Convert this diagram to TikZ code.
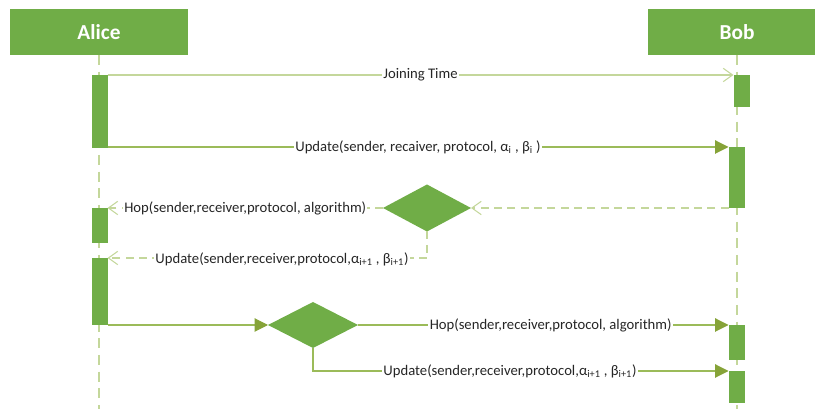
\documentclass[tikz,border=0pt]{standalone}
\usepackage{fontspec}
\setmainfont{Carlito}
\usetikzlibrary{arrows.meta,shapes.geometric}

\definecolor{boxgreen}{HTML}{70AD47}
\definecolor{lifegreen}{HTML}{C4D79B}
\definecolor{msggreen}{HTML}{9BBB59}
\definecolor{tipgreen}{HTML}{86A338}
\definecolor{txtgray}{HTML}{262626}

\tikzset{
  head/.style={fill=boxgreen, draw=none, text=white, font=\fontsize{16}{18}\selectfont\bfseries,
    minimum width=133.5pt, minimum height=34.5pt, inner sep=0pt, outer sep=0pt},
  actbar/.style={fill=boxgreen, draw=none, minimum width=12pt, inner sep=0pt, outer sep=0pt},
  choice/.style={diamond, fill=boxgreen, draw=none, inner sep=0pt, outer sep=0pt},
  lifeline/.style={draw=lifegreen, line width=1.5pt, dash pattern=on 7.5pt off 5pt},
  openmsg/.style={draw=lifegreen, line width=1pt, -{Straight Barb[length=7pt,width=10pt,line width=0.8pt]}},
  replymsg/.style={draw=lifegreen, line width=1pt, dash pattern=on 6pt off 4pt,
    -{Straight Barb[length=7pt,width=10pt,line width=0.8pt]}},
  plainmsg/.style={draw=lifegreen, line width=1pt},
  callmsg/.style={draw=msggreen, line width=0.8pt, -{Triangle[length=10pt,width=10pt,color=tipgreen]}},
  lbl/.style={fill=white, text=txtgray, inner sep=1pt, font=\fontsize{11}{13}\selectfont},
}

\begin{document}
\begin{tikzpicture}[x=0.75pt,y=-0.75pt]
\useasboundingbox (0,0) rectangle (815,409);

% participants
\node[head] (alice) at (99,32) {Alice};
\node[head] (bob) at (737,32) {Bob};

% lifelines
\coordinate (aend) at (99,409);
\coordinate (bend) at (737,409);
\draw[lifeline] (alice.south) -- (aend);
\draw[lifeline] (bob.south) -- (bend);

% activation bars
\node[actbar, minimum height=54.75pt] (a1) at (99.5,111.5) {};
\node[actbar, minimum height=26.25pt] (a2) at (99.5,225.5) {};
\node[actbar, minimum height=50.25pt] (a3) at (99.5,291.5) {};
\node[actbar, minimum height=24pt]    (b1) at (741.5,91) {};
\node[actbar, minimum height=45.75pt] (b2) at (736.5,177.5) {};
\node[actbar, minimum height=26.25pt] (b3) at (736.5,342.5) {};
\node[actbar, minimum height=24pt]    (b4) at (736.5,387) {};

% decisions
\node[choice, minimum width=66pt, minimum height=35.25pt] (d1) at (427,208) {};
\node[choice, minimum width=67.5pt, minimum height=34.5pt] (d2) at (313,325) {};

% messages
\draw[openmsg] (a1.north east) -- (b1.north west)
  node[lbl, midway] {Joining Time};
\draw[callmsg] (a1.east |- b2.north) -- (b2.north west)
  node[lbl, midway] {Update(sender, recaiver, protocol, α\textsubscript{i} , β\textsubscript{i} )};
\draw[replymsg] (b2.south west) -- (d1.east);
\draw[replymsg] (d1.west) -- (a2.north east)
  node[lbl, midway] {Hop(sender,receiver,protocol, algorithm)};
\draw[replymsg] (d1.south) |- (a3.north east);
\node[lbl] (u2) at (282,259) {Update(sender,receiver,protocol,α\textsubscript{i+1} , β\textsubscript{i+1})};
\draw[callmsg] (a3.south east) -- (d2.west);
\draw[callmsg] (d2.east) -- (b3.north west)
  node[lbl, pos=0.52] {Hop(sender,receiver,protocol, algorithm)};
\draw[callmsg] (d2.south) |- (b4.north west);
\node[lbl] (u3) at (510,371) {Update(sender,receiver,protocol,α\textsubscript{i+1} , β\textsubscript{i+1})};
\end{tikzpicture}
\end{document}
